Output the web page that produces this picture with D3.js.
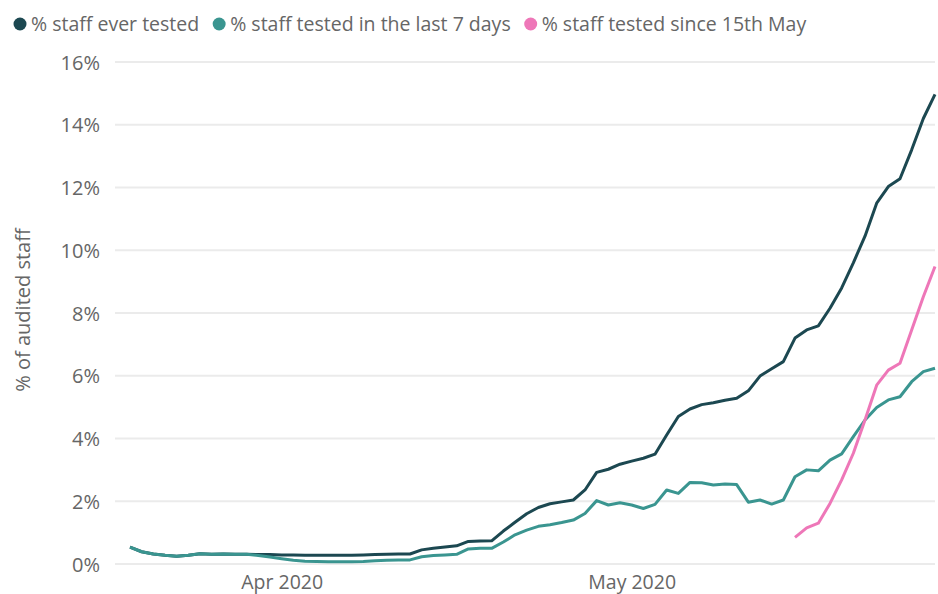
<!DOCTYPE html>
<html>
<head>
<meta charset="utf-8">
<script src="https://cdn.jsdelivr.net/npm/d3@7"></script>
<style>
  body { margin: 0; background: #fff; }
  svg text { font-family: "Open Sans", "Noto Sans", sans-serif; fill: #666; }
</style>
</head>
<body>
<div id="chart"></div>
<script>
// chart size matches the window
const width = 938;
const height = 594;

// first day of the series, one value per day after that
const startDate = new Date(2020, 2, 19);

// % staff ever tested
const everTested = [
  0.54, 0.39, 0.32, 0.28, 0.25, 0.28, 0.33, 0.31, 0.32, 0.31,
  0.31, 0.30, 0.30, 0.29, 0.29, 0.28, 0.28, 0.28, 0.28, 0.28,
  0.29, 0.30, 0.31, 0.32, 0.32, 0.45, 0.50, 0.54, 0.58, 0.72,
  0.73, 0.74, 1.05, 1.33, 1.60, 1.80, 1.92, 1.98, 2.04, 2.36,
  2.92, 3.02, 3.18, 3.28, 3.37, 3.50, 4.11, 4.70, 4.94, 5.08,
  5.14, 5.22, 5.28, 5.52, 5.99, 6.22, 6.45, 7.20, 7.46, 7.59,
  8.15, 8.80, 9.60, 10.45, 11.50, 12.03, 12.28, 13.20, 14.20, 14.97
];

// % staff tested in the last 7 days
const last7Days = [
  0.54, 0.39, 0.32, 0.28, 0.25, 0.28, 0.33, 0.31, 0.32, 0.31,
  0.31, 0.27, 0.22, 0.17, 0.12, 0.09, 0.08, 0.07, 0.07, 0.07,
  0.08, 0.10, 0.12, 0.13, 0.13, 0.23, 0.27, 0.29, 0.31, 0.48,
  0.50, 0.50, 0.70, 0.93, 1.08, 1.20, 1.25, 1.32, 1.40, 1.61,
  2.02, 1.88, 1.95, 1.88, 1.77, 1.90, 2.36, 2.25, 2.60, 2.59,
  2.52, 2.55, 2.53, 1.97, 2.04, 1.91, 2.04, 2.78, 3.00, 2.97,
  3.31, 3.51, 4.06, 4.59, 4.99, 5.23, 5.33, 5.81, 6.13, 6.24
];

// % staff tested since 15th May (starts on day 57)
const sinceMay15Start = 57;
const sinceMay15 = [
  0.85, 1.15, 1.30, 1.93, 2.68, 3.53, 4.59, 5.70, 6.18, 6.40, 7.46, 8.52, 9.48
];

const yTicks = [0, 2, 4, 6, 8, 10, 12, 14, 16];
const xTickDates = [new Date(2020, 3, 1), new Date(2020, 4, 1)];

const seriesNames = [
  "% staff ever tested",
  "% staff tested in the last 7 days",
  "% staff tested since 15th May"
];
const seriesColors = ["#1c4851", "#3a9590", "#ee77b8"];

const dayMs = 24 * 3600 * 1000;
const toPoints = (vals, offset) =>
  vals.map((v, i) => ({ date: new Date(startDate.getTime() + (i + offset) * dayMs), value: v }));

const series = [
  toPoints(everTested, 0),
  toPoints(last7Days, 0),
  toPoints(sinceMay15, sinceMay15Start)
];

const svg = d3.select("#chart")
  .append("svg")
  .attr("width", width)
  .attr("height", height);

// scales
const x = d3.scaleTime()
  .domain([startDate, new Date(startDate.getTime() + 69 * dayMs)])
  .range([130, 935]);

const y = d3.scaleLinear()
  .domain([0, 16])
  .range([564, 62]);

// horizontal gridlines
svg.append("g")
  .selectAll("line")
  .data(yTicks)
  .join("line")
  .attr("x1", 115)
  .attr("x2", 935)
  .attr("y1", (d) => y(d))
  .attr("y2", (d) => y(d))
  .attr("stroke", "#ebebeb")
  .attr("stroke-width", 2);

// y axis labels
const yAxis = svg.append("g")
  .attr("transform", "translate(100,0)")
  .call(d3.axisLeft(y).tickValues(yTicks).tickFormat((d) => d + "%").tickSize(0));
yAxis.select(".domain").remove();
yAxis.selectAll("text")
  .attr("x", 0)
  .attr("dy", "0.35em")
  .style("font-size", "20px");

// x axis labels
const xAxis = svg.append("g")
  .attr("transform", "translate(0,575)")
  .call(d3.axisBottom(x).tickValues(xTickDates).tickFormat(d3.timeFormat("%b %Y")).tickSize(0));
xAxis.select(".domain").remove();
xAxis.selectAll("text")
  .attr("y", 0)
  .attr("dy", "0.71em")
  .style("font-size", "19.5px");

// y axis title
svg.append("text")
  .attr("transform", "rotate(-90)")
  .attr("x", -310)
  .attr("y", 30)
  .style("text-anchor", "middle")
  .style("font-size", "20px")
  .text("% of audited staff");

// lines
const line = d3.line()
  .x((d) => x(d.date))
  .y((d) => y(d.value));

svg.append("g")
  .selectAll("path")
  .data(series)
  .join("path")
  .attr("fill", "none")
  .attr("stroke", (d, i) => seriesColors[i])
  .attr("stroke-width", 3)
  .attr("stroke-linejoin", "round")
  .attr("d", line);

// legend
const legend = svg.append("g").attr("transform", "translate(0,24)");
let lx = 14;
seriesNames.forEach((name, i) => {
  const item = legend.append("g").attr("transform", `translate(${lx},0)`);
  item.append("circle")
    .attr("cx", 6)
    .attr("cy", 0)
    .attr("r", 6.5)
    .attr("fill", seriesColors[i]);
  const t = item.append("text")
    .attr("x", 17)
    .attr("dy", "0.35em")
    .style("font-size", "19.5px")
    .text(name);
  lx += 17 + t.node().getComputedTextLength() + 14;
});
</script>
</body>
</html>
